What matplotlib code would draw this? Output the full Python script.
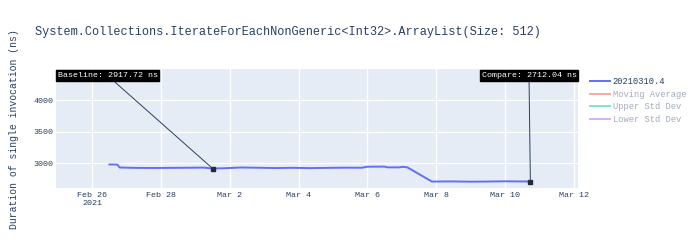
import pandas as pd
import matplotlib.pyplot as plt
from matplotlib.lines import Line2D

# build results (timestamp, duration in ns)
run_times = ["2021-02-26 12:00", "2021-02-26 17:30", "2021-02-26 19:00", "2021-02-27 06:00",
             "2021-02-27 18:00", "2021-02-28 06:00", "2021-02-28 18:00", "2021-03-01 06:00",
             "2021-03-01 12:00", "2021-03-01 20:00", "2021-03-02 08:00", "2021-03-02 20:00",
             "2021-03-03 08:00", "2021-03-03 20:00", "2021-03-04 08:00", "2021-03-04 20:00",
             "2021-03-05 08:00", "2021-03-05 20:00", "2021-03-06 00:00", "2021-03-06 12:00",
             "2021-03-06 14:00", "2021-03-06 22:00", "2021-03-07 01:00", "2021-03-07 04:00",
             "2021-03-07 21:00", "2021-03-08 12:00", "2021-03-09 00:00", "2021-03-09 12:00",
             "2021-03-10 00:00", "2021-03-10 17:45"]
durations = [2982, 2980, 2934, 2928, 2926, 2928, 2930, 2932,
             2917.72, 2922, 2934, 2930, 2925, 2929, 2924, 2928,
             2931, 2930, 2946, 2948, 2936, 2936, 2945, 2935,
             2712, 2714, 2710, 2712, 2716, 2712.04]

series_names = ["20210310.4", "Moving Average", "Upper Std Dev", "Lower Std Dev"]
series_colors = ["#636EFA", "#EF553B", "#00CC96", "#AB63FA"]

baseline_time = "2021-03-01 12:00"
baseline_value = 2917.72
compare_time = "2021-03-10 17:45"
compare_value = 2712.04

tick_dates = ["2021-02-26", "2021-02-28", "2021-03-02", "2021-03-04",
              "2021-03-06", "2021-03-08", "2021-03-10", "2021-03-12"]
tick_labels = ["Feb 26\n2021", "Feb 28", "Mar 2", "Mar 4", "Mar 6", "Mar 8", "Mar 10", "Mar 12"]
y_ticks = [3000, 3500, 4000]

title = "System.Collections.IterateForEachNonGeneric<Int32>.ArrayList(Size: 512)"
y_title = "Duration of single invocation (ns)"

plt.rcParams['font.family'] = ['Liberation Mono', 'DejaVu Sans Mono']
text_color = "#2a3f5f"
faded = "#a3abba"

times = pd.to_datetime(run_times)

fig = plt.figure(figsize=(6.99, 2.44), dpi=100)
ax = fig.add_axes([56 / 699, 1 - 188 / 244, 522 / 699, 119 / 244])
ax.set_facecolor("#E5ECF6")
for s in ax.spines.values():
    s.set_visible(False)

ax.plot(times, durations, color=series_colors[0], lw=1.4, zorder=3)

ax.set_xlim(pd.Timestamp("2021-02-24 22:40"), pd.Timestamp("2021-03-12 03:00"))
ax.set_ylim(2610, 4490)
ax.set_xticks(pd.to_datetime(tick_dates))
ax.set_xticklabels(tick_labels)
ax.set_yticks(y_ticks)
ax.tick_params(length=0, labelsize=6, labelcolor=text_color)
ax.tick_params(axis='x', pad=3)
ax.tick_params(axis='y', pad=1.5)
ax.grid(True, color="white", lw=1)
ax.set_axisbelow(True)

# baseline / compare markers and callouts
bt = pd.Timestamp(baseline_time)
ct = pd.Timestamp(compare_time)
ax.plot([bt, ct], [baseline_value, compare_value], ls='none', marker='s', ms=2.2,
        color="#222a36", zorder=4)

box = dict(boxstyle="square,pad=0.2", fc="black", ec="black")
arrow = dict(arrowstyle="-", color=text_color, lw=0.7, shrinkA=0, shrinkB=0)
ax.annotate(f"Baseline: {baseline_value:.2f} ns", xy=(bt, baseline_value),
            xytext=(107.5, 244 - 75.5), textcoords='figure pixels',
            ha='center', va='center', color="white", fontsize=6, bbox=box, arrowprops=arrow,
            zorder=5)
ax.annotate(f"Compare: {compare_value:.2f} ns", xy=(ct, compare_value),
            xytext=(529, 244 - 75.5), textcoords='figure pixels',
            ha='center', va='center', color="white", fontsize=6, bbox=box, arrowprops=arrow,
            zorder=5)

fig.text(35 / 699, 1 - 32 / 244, title, fontsize=8.55, color=text_color, va='center', ha='left')
fig.text(14 / 699, 1 - 129 / 244, y_title, fontsize=7, color=text_color, rotation=90,
         va='center', ha='center')

handles = [Line2D([], [], color=series_colors[0], lw=1.4)]
for c in series_colors[1:]:
    handles.append(Line2D([], [], color=c, lw=1.4, alpha=0.5))
leg = fig.legend(handles, series_names, loc='upper left', bbox_to_anchor=(590 / 699, 1 - 77 / 244),
                 frameon=False, fontsize=6.3, handlelength=2.3, handletextpad=0.3,
                 labelspacing=0.42, borderpad=0, borderaxespad=0)
for i, t in enumerate(leg.get_texts()):
    t.set_color(text_color if i == 0 else faded)

fig.savefig("out.png", dpi=100)
